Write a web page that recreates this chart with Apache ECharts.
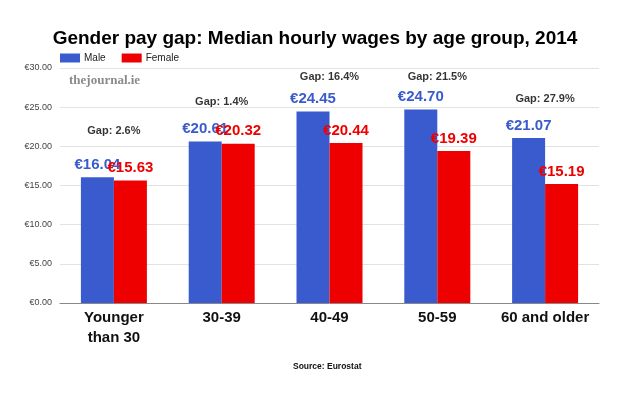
<!DOCTYPE html>
<html>
<head>
<meta charset="utf-8">
<script src="https://cdn.jsdelivr.net/npm/echarts@6/dist/echarts.min.js"></script>
<style>html,body{margin:0;padding:0;background:#fff}#c{width:630px;height:395px}</style>
</head>
<body>
<div id="c"></div>
<script>
const categories = ['Younger\nthan 30', '30-39', '40-49', '50-59', '60 and older'];
const maleWages = [16.04, 20.61, 24.45, 24.70, 21.07];
const femaleWages = [15.63, 20.32, 20.44, 19.39, 15.19];
const gapText = ['2.6%', '1.4%', '16.4%', '21.5%', '27.9%'];
const gapLabelLevel = [21.9, 25.6, 28.8, 28.8, 26.0];
const yTicks = [0, 5, 10, 15, 20, 25, 30];

const BLUE = '#3a5bcd';
const RED = '#ee0000';
const FONT = '"Liberation Sans", Arial, sans-serif';

const chart = echarts.init(document.getElementById('c'), null, {renderer: 'canvas'});
chart.setOption({
  animation: false,
  backgroundColor: '#fff',
  title: {
    text: 'Gender pay gap: Median hourly wages by age group, 2014',
    left: 'center', top: 24,
    textStyle: {fontFamily: FONT, fontSize: 19, fontWeight: 'bold', color: '#000'}
  },
  legend: {
    data: ['Male', 'Female'],
    left: 60, top: 53, padding: 0,
    itemWidth: 20, itemHeight: 9, itemGap: 16,
    icon: 'rect',
    textStyle: {fontFamily: FONT, fontSize: 10, color: '#222', padding: [0, 0, 0, -1]}
  },
  graphic: [
    {type: 'text', left: 69, top: 74, style: {text: 'thejournal.ie', fontFamily: '"Liberation Serif", serif', fontSize: 13, fontWeight: 'bold', fill: '#8a8a8a'}},
    {type: 'text', left: 293, top: 362, style: {text: 'Source: Eurostat', fontFamily: FONT, fontSize: 8.5, fontWeight: 'bold', fill: '#111'}}
  ],
  grid: {left: 60, right: 31, top: 68, bottom: 92},
  xAxis: {
    type: 'category', data: categories,
    axisTick: {show: false},
    axisLine: {lineStyle: {color: '#888'}},
    axisLabel: {interval: 0, fontFamily: FONT, fontSize: 15, fontWeight: 'bold', color: '#111', lineHeight: 20, margin: 5}
  },
  yAxis: {
    type: 'value', min: yTicks[0], max: yTicks[yTicks.length - 1], interval: 5,
    axisLabel: {fontFamily: FONT, fontSize: 9, color: '#444', margin: 8, formatter: v => '€' + v.toFixed(2)},
    splitLine: {lineStyle: {color: '#e2e2e2'}},
    axisLine: {show: false}, axisTick: {show: false}
  },
  series: [
    {
      name: 'Male', type: 'bar', data: maleWages, barWidth: 33, barGap: '0%',
      itemStyle: {color: BLUE},
      label: {show: true, position: 'top', distance: 5, fontFamily: FONT, fontSize: 15, fontWeight: 'bold', color: BLUE, formatter: p => '€' + p.value.toFixed(2)}
    },
    {
      name: 'Female', type: 'bar', data: femaleWages, barWidth: 33,
      itemStyle: {color: RED},
      label: {show: true, position: 'top', distance: 5, fontFamily: FONT, fontSize: 15, fontWeight: 'bold', color: RED, formatter: p => '€' + p.value.toFixed(2)}
    },
    {
      name: 'Gap', type: 'scatter', symbolSize: 0, silent: true,
      data: gapLabelLevel.map((v, i) => [i, v]),
      label: {show: true, position: 'inside', fontFamily: FONT, fontSize: 11, fontWeight: 'bold', color: '#000', formatter: p => 'Gap: ' + gapText[p.dataIndex]}
    }
  ]
});
</script>
</body>
</html>
